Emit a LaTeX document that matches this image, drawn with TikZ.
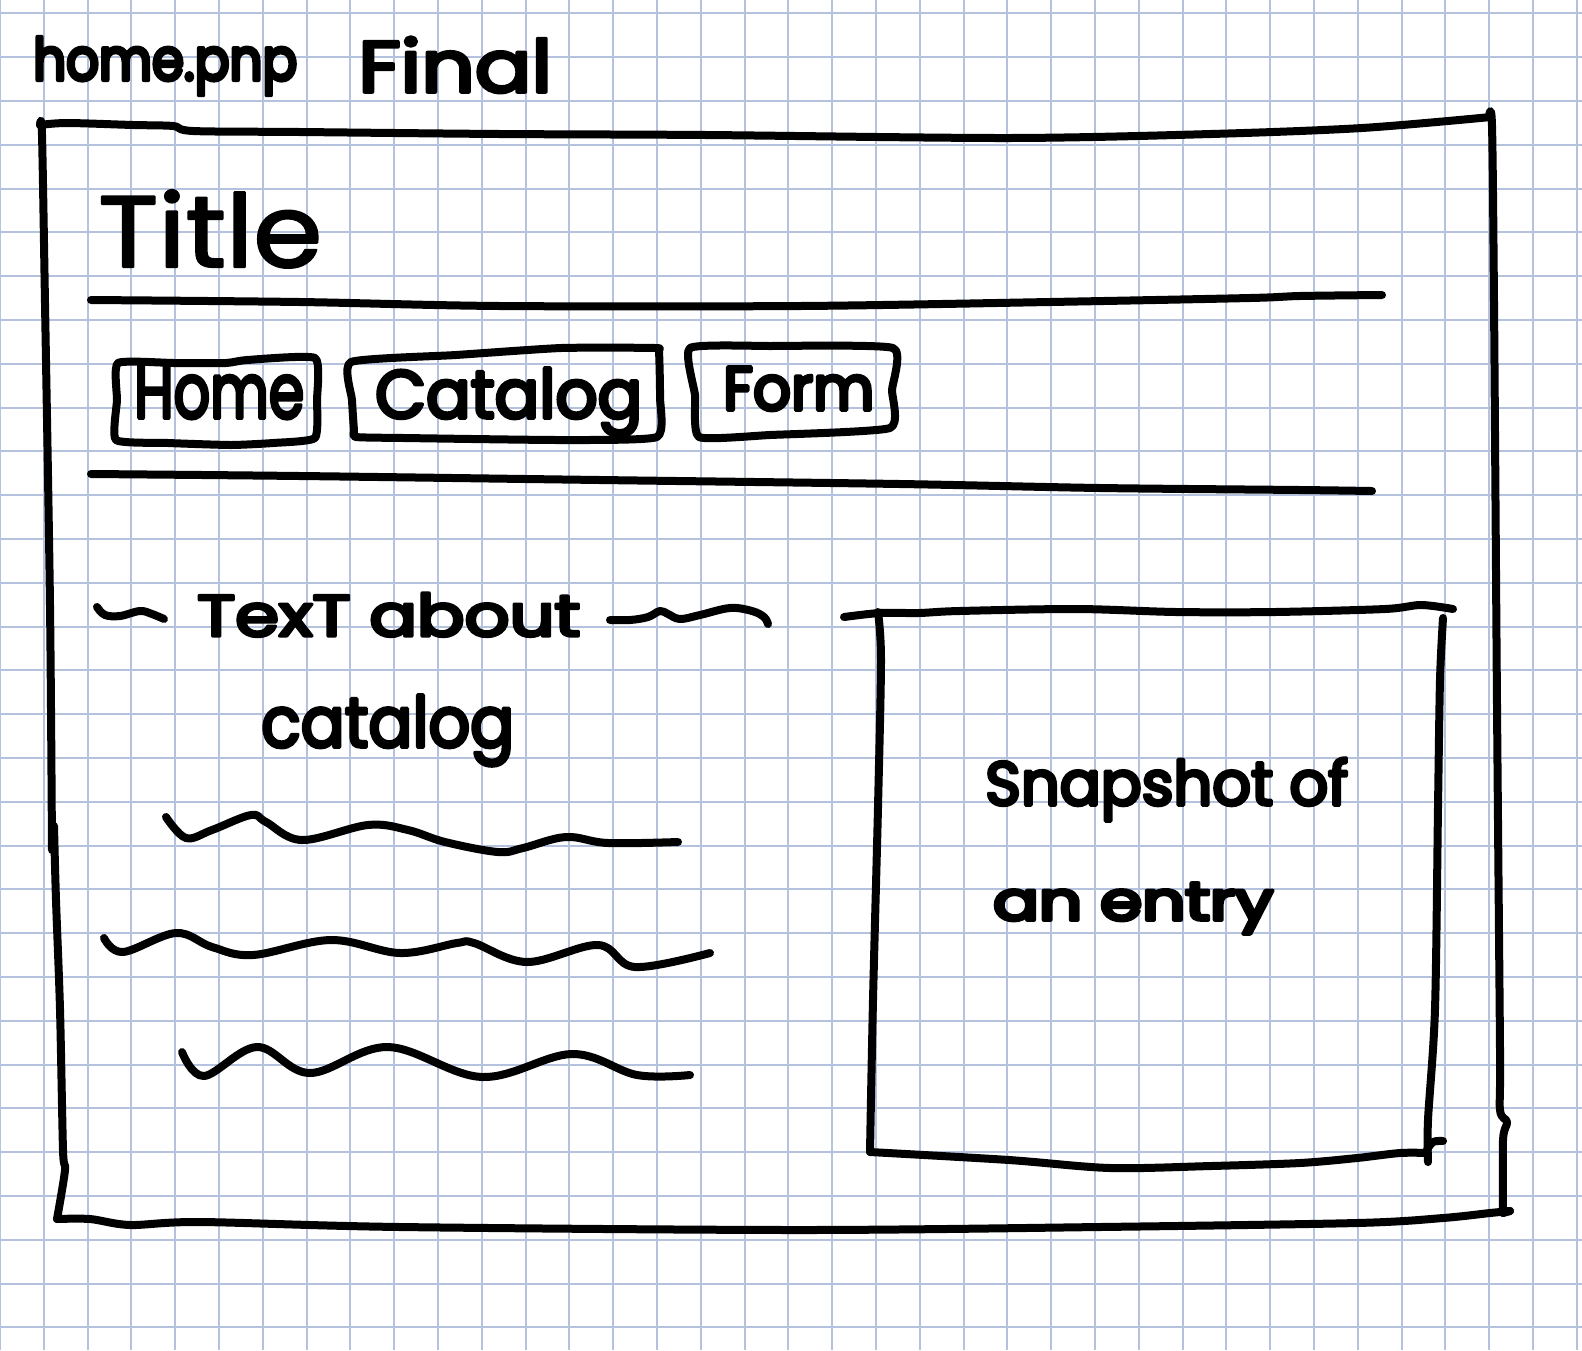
\documentclass[tikz,border=0pt]{standalone}
\usepackage{fontspec}
\setmainfont{Poppins}
\usepackage{graphicx}

\definecolor{gridblue}{RGB}{180,194,221}

\tikzset{
  pen/.style={line width=8pt, line cap=round, line join=round, black},
  gridline/.style={line width=2pt, gridblue},
  hand/.style={inner sep=0pt, anchor=base west},
}
% pen-like text: set at 70pt with outlined glyphs (outline width #3),
% then stretched to width #1 and height #2 above the baseline
\newcommand{\hw}[4]{\resizebox{#1pt}{#2pt}{\fontsize{70}{70}\selectfont
  \special{pdf:literal direct 2 Tr 1 j 1 J #3 w}#4\special{pdf:literal direct 0 Tr}}}

\begin{document}
\begin{tikzpicture}[x=1pt,y=-1pt]
% paper
\fill[white] (0,0) rectangle (1582,1350);
\useasboundingbox (0,0) rectangle (1582,1350);
\foreach \k in {0,...,36} \draw[gridline] ({43.8*\k},0) -- ({43.8*\k},1350);
\foreach \k in {0,...,30} \draw[gridline] (0,{13.3+43.8*\k}) -- (1582,{13.3+43.8*\k});

% heading
\node[hand] (file)  at (33,80)  {\hw{264}{43}{5}{home.pnp}};
\node[hand] (final) at (358,92) {\hw{194}{55}{3.4}{Final}};

% page frame
\draw[pen] plot[smooth, tension=0.5] coordinates {(40,125)(67,123)(133,125)(173,126)(193,131)(300,132)(500,134)(706,135)(1009,138)(1211,134)(1362,128)(1491,117)};
\draw[pen] plot[smooth, tension=0.5] coordinates {(1489,116)(1492,126)(1494,303)(1497,706)(1500,1050)(1500,1110)(1507,1122)(1503,1140)(1503,1213)};
\draw[pen] (1503,1213) -- (1510,1211);
\draw[pen] plot[smooth, tension=0.5] coordinates {(1510,1211)(1490,1213)(1443,1218)(1357,1223)(1100,1227)(800,1230)(400,1227)(200,1222)(130,1225)(90,1219)(57,1219)};
\draw[pen] plot[smooth, tension=0.5] coordinates {(40,125)(42,135)(45,303)(50,605)(52,850)};
\draw[pen] plot[smooth, tension=0.5] coordinates {(54,826)(56,900)(60,1009)(63,1150)(65,1170)(57,1219)};

% title bar
\node[hand] (title) at (98,267) {\hw{224}{77}{1.5}{Title}};
\draw[pen] plot[smooth, tension=0.5] coordinates {(91,300)(300,302)(500,306)(800,306)(1050,302)(1250,298)(1300,296)(1382,295)};

% navigation buttons
\draw[pen] plot[smooth cycle, tension=0.3] coordinates {(118,363)(174,363)(226,363)(247,360)(315,358)(317,400)(315,438)(273,443)(231,445)(168,443)(116,440)(117,400)};
\node[hand] (home) at (134,418) {\hw{170}{53}{3.5}{Home}};

\draw[pen] plot[smooth cycle, tension=0.3] coordinates {(351,362)(456,355)(561,348)(655,348)(659,352)(660,397)(657,437)(561,440)(404,438)(356,437)(354,430)(352,400)};
\node[hand] (catalog) at (375,418) {\hw{267}{50}{3.8}{Catalog}};

\draw[pen] plot[smooth cycle, tension=0.3] coordinates {(690,348)(770,346)(893,348)(892,390)(890,428)(770,435)(699,437)(695,395)};
\node[hand] (form) at (723,410) {\hw{151}{43}{4.3}{Form}};

\draw[pen] plot[smooth, tension=0.5] coordinates {(91,474)(300,476)(600,480)(900,484)(1100,488)(1300,490)(1372,491)};

% text block
\draw[pen] plot[smooth, tension=0.6] coordinates {(97,607)(105,615)(120,616)(140,611)(152,614)(164,619)};
\node[hand] (about) at (197,636) {\hw{383}{43}{4}{TexT about}};
\draw[pen] plot[smooth, tension=0.6] coordinates {(610,620)(630,620)(648,617)(660,611)(668,614)(680,619)(700,615)(730,608)(752,611)(764,617)(768,624)};
\node[hand] (cattext) at (261,747) {\hw{253}{52}{3.6}{catalog}};

\draw[pen] plot[smooth, tension=0.6] coordinates {(166,817)(186,838)(212,830)(251,815)(266,822)(302,840)(368,825)(408,830)(445,842)(498,852)(523,848)(566,837)(608,843)(678,842)};
\draw[pen] plot[smooth, tension=0.6] coordinates {(104,938)(123,952)(176,933)(212,947)(253,955)(331,940)(400,953)(457,943)(474,943)(527,962)(598,945)(635,967)(710,953)};
\draw[pen] plot[smooth, tension=0.6] coordinates {(182,1052)(204,1076)(257,1047)(310,1073)(388,1047)(482,1077)(572,1054)(637,1075)(690,1075)};

% snapshot panel
\draw[pen] plot[smooth, tension=0.5] coordinates {(844,617)(880,613)(919,613)(959,611)(1077,609)(1176,612)(1275,612)(1385,609)(1421,605)(1453,609)};
\draw[pen] plot[smooth, tension=0.5] coordinates {(878,612)(881,660)(878,807)(873,1000)(870,1152)};
\draw[pen] plot[smooth, tension=0.5] coordinates {(870,1152)(1009,1160)(1110,1168)(1211,1166)(1300,1163)(1357,1158)(1400,1153)(1428,1153)};
\draw[pen] plot[smooth, tension=0.5] coordinates {(1443,618)(1440,680)(1438,807)(1435,1009)(1428,1120)(1428,1162)};
\draw[pen] plot[smooth, tension=0.6] coordinates {(1427,1150)(1433,1142)(1443,1141)};
\node[hand] (snap)  at (985,805) {\hw{363}{47}{4}{Snapshot of}};
\node[hand] (entry) at (993,920) {\hw{280}{37}{5}{an entry}};
\end{tikzpicture}
\end{document}
